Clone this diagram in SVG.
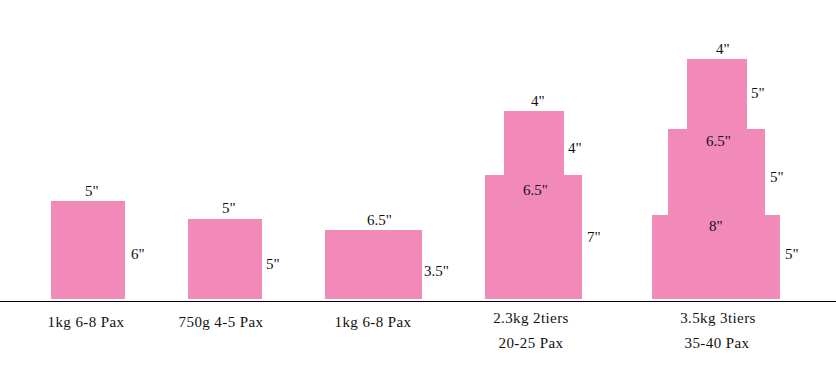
<svg xmlns="http://www.w3.org/2000/svg" width="836" height="379" viewBox="0 0 836 379">
<style>
.tier{fill:#f18ab9}
text{font-family:"Liberation Serif","DejaVu Serif",serif;font-size:15px;fill:#111}
.lbl{text-anchor:middle;letter-spacing:0.4px}
</style>
<rect width="836" height="379" fill="#fff"/>
<g id="ground"><line x1="0" y1="301.5" x2="836" y2="301.5" stroke="#000" stroke-width="1.2"/></g>
<g id="cake1">
<rect class="tier" x="51" y="201" width="74" height="98"/>
<text x="85" y="196">5"</text>
<text x="131" y="259">6"</text>
<text class="lbl" x="86" y="327">1kg 6-8 Pax</text>
</g>
<g id="cake2">
<rect class="tier" x="188" y="219" width="74" height="80"/>
<text x="222" y="213">5"</text>
<text x="266" y="269">5"</text>
<text class="lbl" x="221" y="327">750g 4-5 Pax</text>
</g>
<g id="cake3">
<rect class="tier" x="325" y="230" width="97" height="69"/>
<text x="367" y="225">6.5"</text>
<text x="424" y="276">3.5"</text>
<text class="lbl" x="373" y="327">1kg 6-8 Pax</text>
</g>
<g id="cake4">
<rect class="tier" x="504" y="111" width="60" height="65"/>
<rect class="tier" x="485" y="175" width="97" height="124"/>
<text x="531" y="106">4"</text>
<text x="568" y="153">4"</text>
<text x="523" y="195">6.5"</text>
<text x="587" y="242">7"</text>
<text class="lbl" x="531" y="323">2.3kg 2tiers</text>
<text class="lbl" x="531" y="348">20-25 Pax</text>
</g>
<g id="cake5">
<rect class="tier" x="687" y="59" width="60" height="71"/>
<rect class="tier" x="668" y="129" width="97" height="87"/>
<rect class="tier" x="652" y="215" width="128" height="84"/>
<text x="716" y="54">4"</text>
<text x="751" y="98">5"</text>
<text x="706" y="146">6.5"</text>
<text x="770" y="182">5"</text>
<text x="709" y="231">8"</text>
<text x="785" y="259">5"</text>
<text class="lbl" x="718" y="323">3.5kg 3tiers</text>
<text class="lbl" x="717" y="348">35-40 Pax</text>
</g>
</svg>
